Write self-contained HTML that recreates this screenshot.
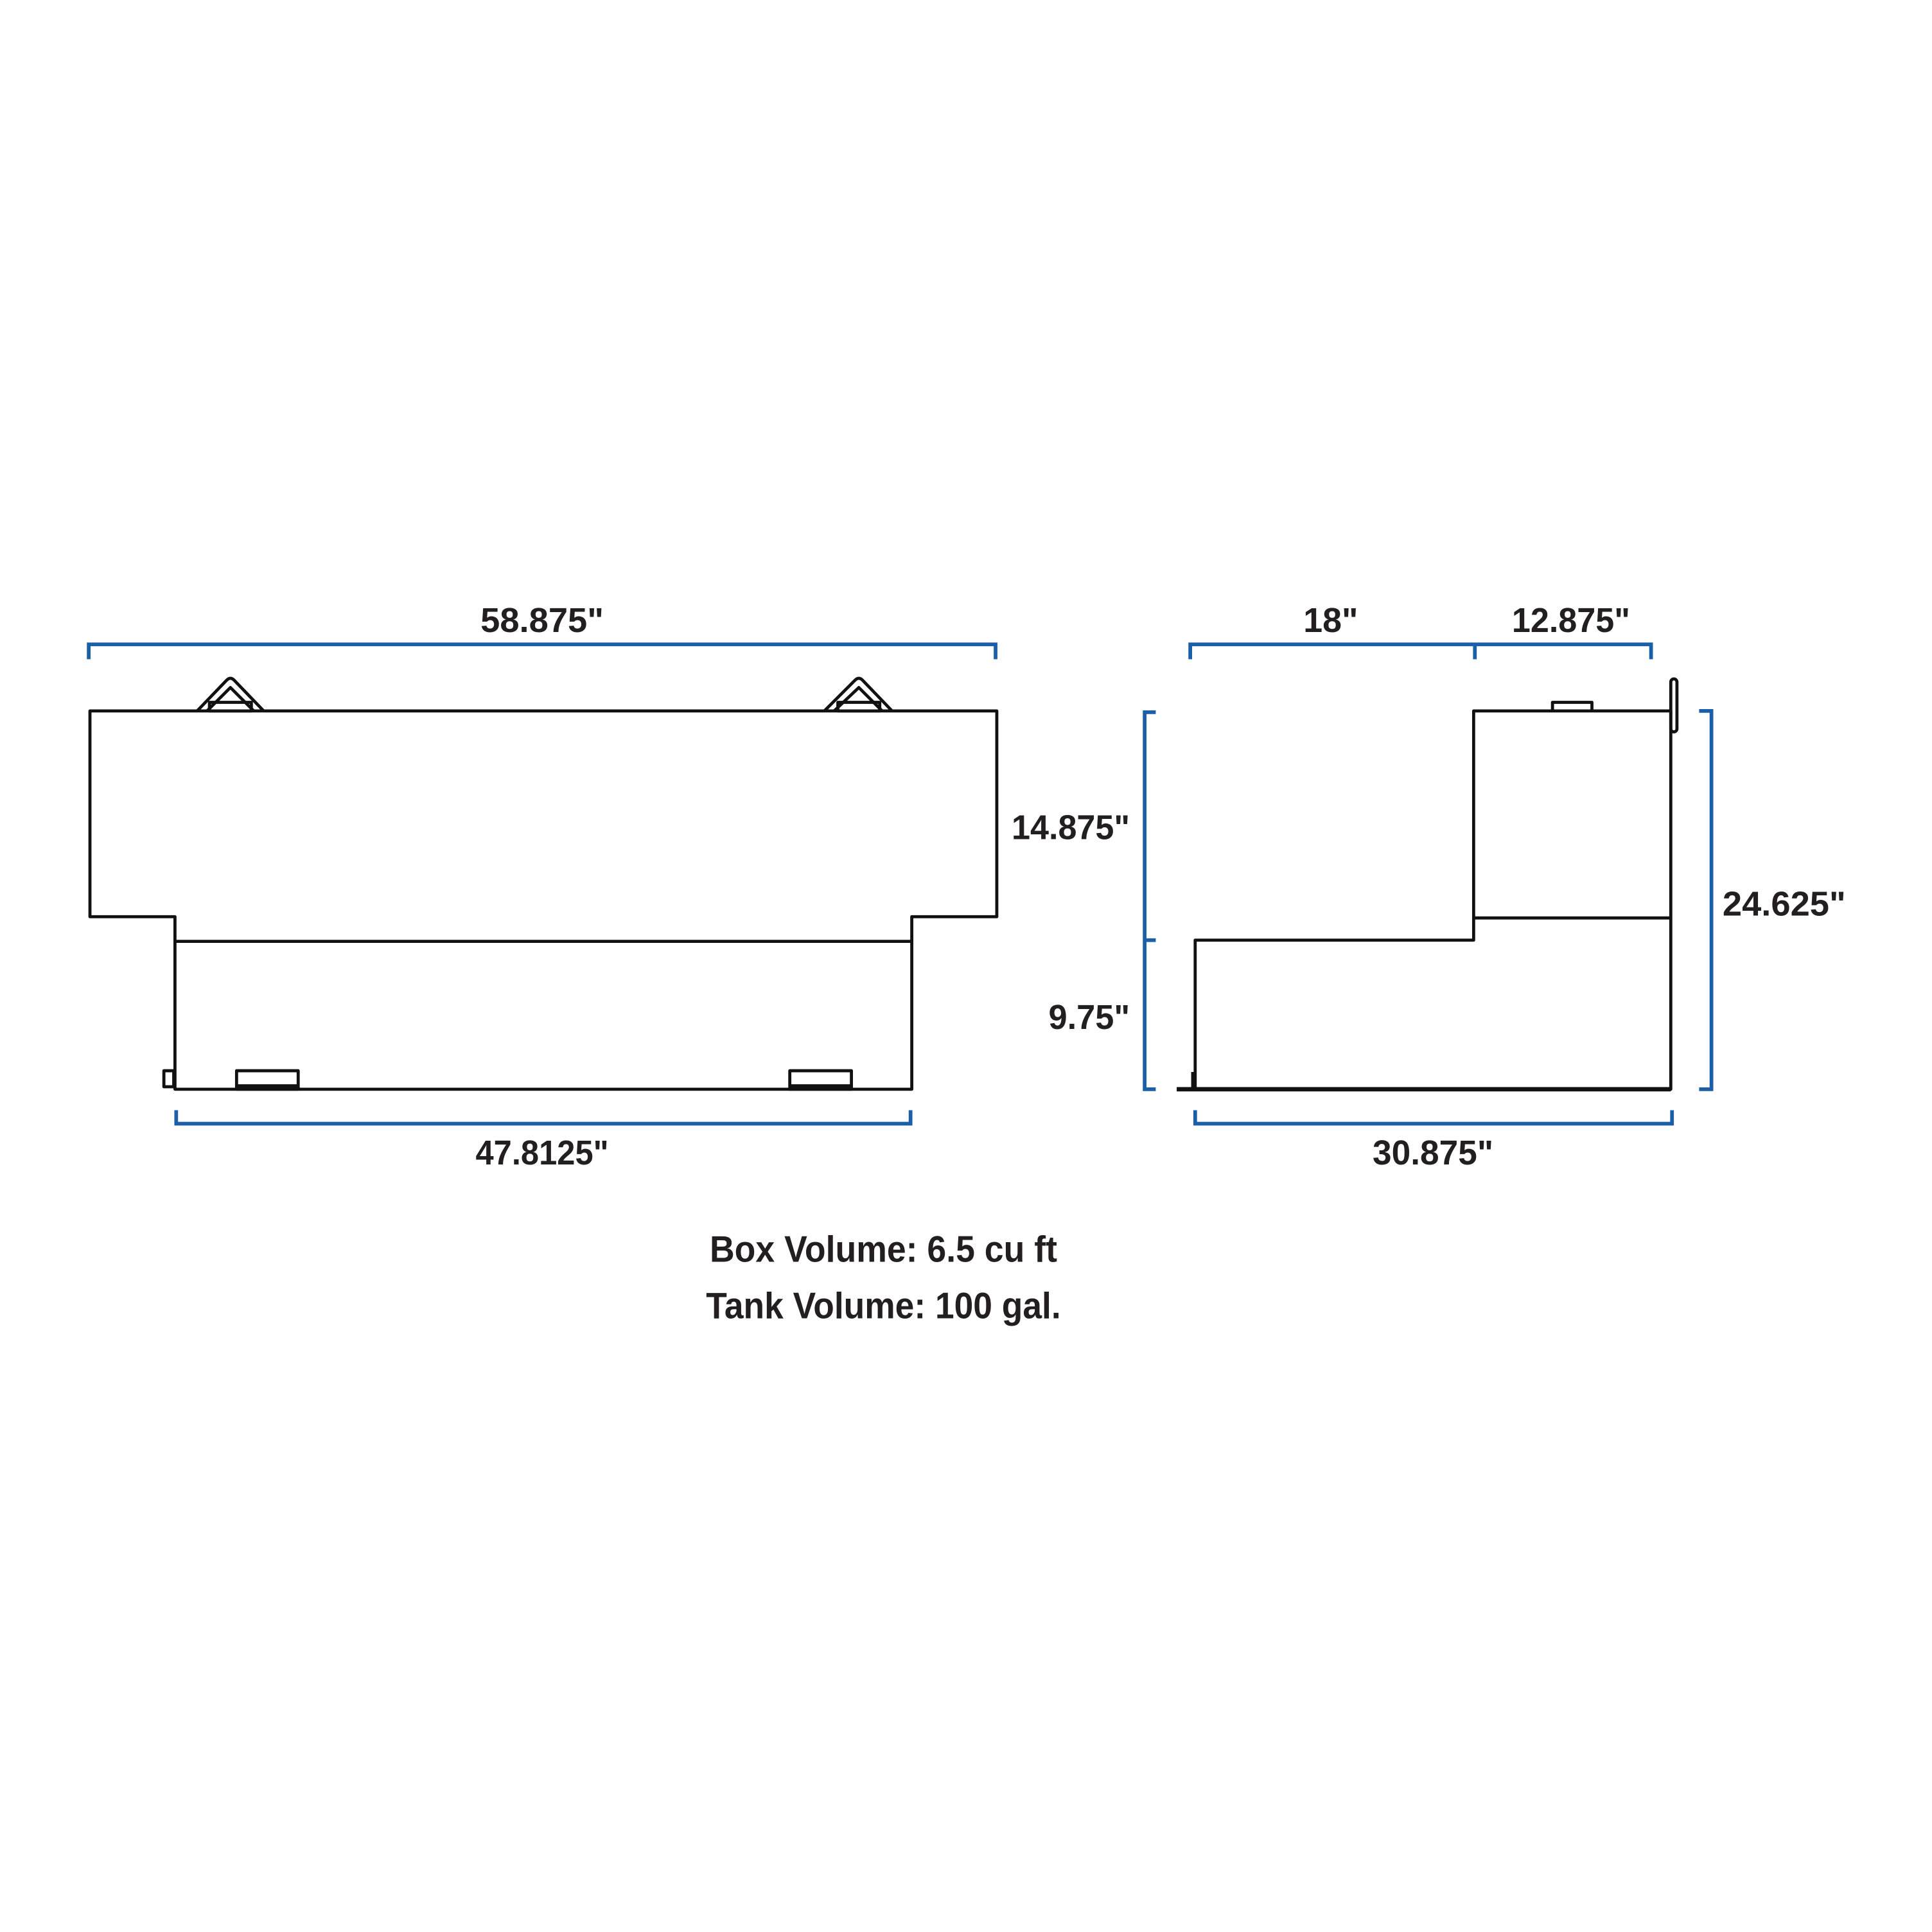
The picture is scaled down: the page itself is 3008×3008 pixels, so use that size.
<!DOCTYPE html>
<html><head><meta charset="utf-8"><style>
html,body{margin:0;padding:0;background:#fff;}
svg{display:block;}
text{font-family:"Liberation Sans Narrow","Liberation Sans",sans-serif;fill:#231f20;text-anchor:middle;}
</style></head><body>
<svg width="3008" height="3008" viewBox="0 0 1568 1568" xmlns="http://www.w3.org/2000/svg">
<rect width="1568" height="1568" fill="#fff"/>
<g fill="none" stroke="#1a5fa8" stroke-width="3">
<path d="M72,535 V523 H808 V535"/>
<path d="M143,901 V912 H739 V901"/>
<path d="M938,578 H929 V884 H938 M929,763 H938"/>
<path d="M966,535 V523 H1340 V535 M1197,523 V535"/>
<path d="M1379,577 H1389 V884 H1379"/>
<path d="M970,901 V912 H1357 V901"/>
</g>
<g fill="none" stroke="#111" stroke-width="2.5" stroke-linejoin="round">
<path d="M73,744 V577 H809 V744 H740 V884 H142 V744 Z"/>
<path d="M142,764 H740"/>
<path d="M160,577 L184,552 Q187,549 190,552 L214,577"/>
<path d="M168,577 L187,558 L206,577"/>
<rect x="170" y="570" width="34" height="7"/>
<path d="M669,577 L694,552 Q697,549 700,552 L724,577"/>
<path d="M677,577 L697,558 L716,577"/>
<rect x="680" y="570" width="34" height="7"/>
<rect x="192" y="869" width="50" height="15"/>
<rect x="641" y="869" width="50" height="15"/>
<path d="M192,882 H242 M641,882 H691" stroke-width="4"/>
<rect x="133" y="869" width="8" height="13"/>
<path d="M970,884 V763 H1196 V577 H1356 V884 Z"/>
<path d="M1196,745 H1356"/>
<path d="M955,884 H1356" stroke-width="3.5"/>
<path d="M968,870 V884"/>
<path d="M1260,577 V570 H1292 V577"/>
<rect x="1356" y="551" width="5" height="43" rx="2.5"/>
</g>
<g font-size="28" font-weight="bold">
<text x="440" y="513" textLength="100" lengthAdjust="spacingAndGlyphs">58.875"</text>
<text x="440" y="945" textLength="108" lengthAdjust="spacingAndGlyphs">47.8125"</text>
<text x="869" y="681" textLength="96" lengthAdjust="spacingAndGlyphs">14.875"</text>
<text x="884" y="835" textLength="66" lengthAdjust="spacingAndGlyphs">9.75"</text>
<text x="1080" y="513">18"</text>
<text x="1275" y="513" textLength="96" lengthAdjust="spacingAndGlyphs">12.875"</text>
<text x="1448" y="743" textLength="100" lengthAdjust="spacingAndGlyphs">24.625"</text>
<text x="1163" y="945" textLength="98" lengthAdjust="spacingAndGlyphs">30.875"</text>
</g>
<g font-size="30" font-weight="bold">
<text x="717" y="1024" textLength="282" lengthAdjust="spacingAndGlyphs">Box Volume: 6.5 cu ft</text>
<text x="717" y="1070" textLength="288" lengthAdjust="spacingAndGlyphs">Tank Volume: 100 gal.</text>
</g>
</svg>
</body></html>
